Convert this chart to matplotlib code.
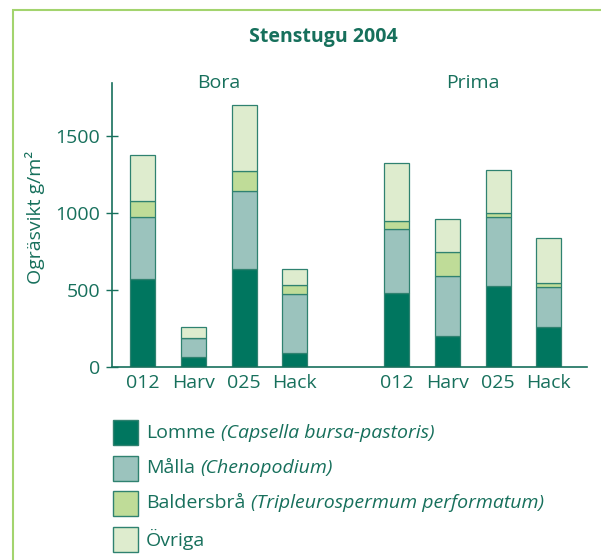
import matplotlib.pyplot as plt
from matplotlib.patches import Rectangle
import numpy as np

plt.rcParams['font.family'] = ['Open Sans', 'DejaVu Sans']

categories = ['012', 'Harv', '025', 'Hack', '012', 'Harv', '025', 'Hack']
groups = ['Bora', 'Prima']
lomme = [572, 65, 635, 91, 483, 202, 524, 259]
malla = [400, 122, 509, 383, 413, 392, 450, 263]
baldersbra = [109, 0, 131, 61, 52, 150, 26, 22]
ovriga = [300, 70, 428, 104, 378, 219, 279, 297]
series_names = ['Lomme', 'Målla', 'Baldersbrå', 'Övriga']
series_latin = ['(Capsella bursa-pastoris)', '(Chenopodium)',
                '(Tripleurospermum performatum)', '']
colors = ['#00765f', '#9bc3bd', '#bfdc98', '#deecce']

text_col = '#17705c'
edge_col = '#2f8270'
fs = 14

fig = plt.figure(figsize=(6.01, 5.6), dpi=100)
W, H = 601, 560

# light green frame
fig.add_artist(Rectangle((12.5 / W, -0.1), 1.2, 1 - 10 / H + 0.1,
                         transform=fig.transFigure, fill=False,
                         edgecolor='#a3d46e', linewidth=1.5))

ax = fig.add_axes([112 / W, 1 - 366.7 / H, 475 / W, 284 / H])
x = np.array([0, 1, 2, 3, 5, 6, 7, 8])
bottom = np.zeros(len(x))
for vals, c in zip([lomme, malla, baldersbra, ovriga], colors):
    vals = np.array(vals)
    ax.bar(x, vals, width=0.49, bottom=bottom, color=c,
           edgecolor=edge_col, linewidth=0.9)
    bottom += vals

ax.set_xlim(-0.6, 8.75)
ax.set_ylim(0, 1850)
ax.set_yticks([0, 500, 1000, 1500])
ax.set_xticks(x)
ax.set_xticklabels(categories)
ax.tick_params(axis='y', direction='inout', length=9, width=1,
               colors=text_col, labelsize=fs, pad=4)
ax.tick_params(axis='x', length=0, colors=text_col, labelsize=fs, pad=5)
for s in ['top', 'right']:
    ax.spines[s].set_visible(False)
for s in ['left', 'bottom']:
    ax.spines[s].set_color(text_col)
    ax.spines[s].set_linewidth(1.2)

fig.text(323 / W, 1 - 37 / H, 'Stenstugu 2004', ha='center', va='center',
         fontsize=14, fontweight='bold', color=text_col)
for gx, g in zip([1.5, 6.5], groups):
    ax.text(gx, 1 - 0.0, g, transform=ax.get_xaxis_transform(),
            ha='center', va='center', fontsize=fs, color=text_col)
fig.text(35 / W, 1 - 217 / H, 'Ogräsvikt g/m²', rotation=90,
         ha='center', va='center', fontsize=fs, color=text_col)

# legend
for i, (name, latin, c) in enumerate(zip(series_names, series_latin, colors)):
    top = 420 + i * 35.5
    fig.add_artist(Rectangle((112.5 / W, 1 - (top + 25) / H), 25 / W, 25 / H,
                             transform=fig.transFigure, facecolor=c,
                             edgecolor=edge_col, linewidth=1))
    t = fig.text(146 / W, 1 - (top + 12.5) / H, name, ha='left', va='center',
                 fontsize=fs, color=text_col)
    if latin:
        ax.annotate(latin, xy=(1, 0), xycoords=t, xytext=(4, 0),
                    textcoords='offset points', ha='left', va='bottom',
                    fontsize=fs, fontstyle='italic', color=text_col,
                    annotation_clip=False)

fig.savefig('out.png', dpi=100)
